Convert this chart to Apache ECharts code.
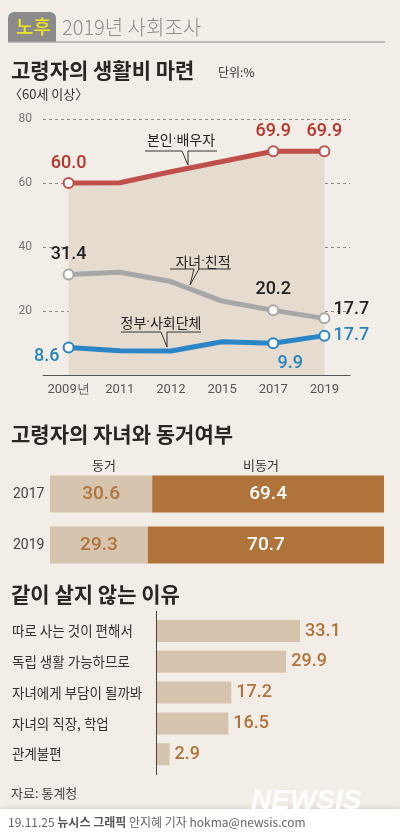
<!DOCTYPE html>
<html><head><meta charset="utf-8">
<script src="https://cdn.jsdelivr.net/npm/echarts@6/dist/echarts.min.js"></script>
<style>html,body{margin:0;padding:0;background:#f3ede7}#c{width:400px;height:832px}</style>
</head><body><div id="c"></div>
<script>
// ---- Data ----
const years = ['2009년', '2011', '2012', '2015', '2017', '2019'];
const selfSpouse = [60.0, 60.1, 63.5, 66.7, 69.9, 69.9];
const selfSpouseLabels = ['60.0', null, null, null, '69.9', '69.9'];
const children = [31.4, 32.1, 29.2, 23.1, 20.2, 17.7];
const childrenLabels = ['31.4', null, null, null, '20.2', '17.7'];
const govt = [8.6, 7.6, 7.5, 10.4, 9.9, 12.3];
const govtLabels = ['8.6', null, null, null, '9.9', '17.7'];
const yTicks = [0, 20, 40, 60, 80];

const coYears = ['2017', '2019'];
const coLiving = [30.6, 29.3];
const notCoLiving = [69.4, 70.7];

const reasons = ['따로 사는 것이 편해서', '독립 생활 가능하므로', '자녀에게 부담이 될까봐', '자녀의 직장, 학업', '관계불편'];
const reasonValues = [33.1, 29.9, 17.2, 16.5, 2.9];

// ---- Styles ----
const KR = '"Noto Sans CJK KR", "Noto Sans", sans-serif';
const NUM = '"Liberation Sans Narrow", Roboto, sans-serif';
const RED = '#c0504b', GRAY = '#a7a7a7', BLUE = '#2a86c6';
const LIGHT = '#d6c4af', BROWN = '#b0733a';

function lineData(vals, labels, labelColor, positions) {
  return vals.map((v, i) => {
    const item = { value: v, symbol: labels[i] ? 'circle' : 'none' };
    if (labels[i]) {
      item.label = Object.assign({
        show: true, formatter: labels[i], color: labelColor,
        fontFamily: NUM, fontSize: 18, fontWeight: 500
      }, positions[i]);
    }
    return item;
  });
}

const chart = echarts.init(document.getElementById('c'), null, { renderer: 'canvas' });

const calloutRich = { d: { fontFamily: 'Roboto, sans-serif', fontSize: 14, fill: '#222' } };

const option = {
  backgroundColor: '#f3ede7',
  animation: false,
  grid: [
    { left: 43, right: 50, top: 119, height: 256 },
    { left: 50, right: 16, top: 468.5, height: 102 },
    { left: 157, width: 216, top: 615.6, height: 154 }
  ],
  xAxis: [
    {
      gridIndex: 0, type: 'category', data: years, boundaryGap: true,
      axisLine: { lineStyle: { color: '#555', width: 1 } },
      axisTick: { alignWithLabel: true, length: 5, lineStyle: { color: '#555' } },
      axisLabel: { color: '#555', fontFamily: NUM, fontSize: 13, margin: 8, interval: 0 }
    },
    { gridIndex: 1, type: 'value', min: 0, max: 100, show: false },
    { gridIndex: 2, type: 'value', min: 0, max: 50, show: false }
  ],
  yAxis: [
    {
      gridIndex: 0, type: 'value', min: yTicks[0], max: yTicks[yTicks.length - 1], interval: 20,
      axisLine: { show: false }, axisTick: { show: false },
      axisLabel: { color: '#777', fontFamily: NUM, fontSize: 12, margin: 11,
        formatter: v => (v === 0 ? '' : String(v)) },
      splitLine: { lineStyle: { color: '#8f8a86', type: [3, 3], width: 1 } }
    },
    {
      gridIndex: 1, type: 'category', data: coYears, inverse: true,
      axisLine: { show: false }, axisTick: { show: false },
      axisLabel: { color: '#444', fontFamily: NUM, fontSize: 14, align: 'left', margin: 37 }
    },
    {
      gridIndex: 2, type: 'category', data: reasons, inverse: true,
      axisLine: { show: false }, axisTick: { show: false },
      axisLabel: { color: '#333', fontFamily: KR, fontSize: 13.5, align: 'left', margin: 145 }
    }
  ],
  series: [
    {
      type: 'line', xAxisIndex: 0, yAxisIndex: 0, z: 3,
      data: lineData(selfSpouse, selfSpouseLabels, '#b8352c', [
        { position: 'top', distance: 5 }, null, null, null,
        { position: 'top', distance: 5 }, { position: 'top', distance: 5 }]),
      lineStyle: { color: RED, width: 5 },
      itemStyle: { color: '#fff', borderColor: RED, borderWidth: 2 },
      symbolSize: 10,
      areaStyle: { color: '#e6dbcf', opacity: 1 }
    },
    {
      type: 'line', xAxisIndex: 0, yAxisIndex: 0, z: 4,
      data: lineData(children, childrenLabels, '#222', [
        { position: 'top', distance: 5 }, null, null, null,
        { position: 'top', distance: 6 }, { position: 'right', distance: 3, offset: [0, -9] }]),
      lineStyle: { color: GRAY, width: 5 },
      itemStyle: { color: '#fff', borderColor: GRAY, borderWidth: 2 },
      symbolSize: 10
    },
    {
      type: 'line', xAxisIndex: 0, yAxisIndex: 0, z: 5,
      data: lineData(govt, govtLabels, '#2586ba', [
        { position: 'left', distance: 3, offset: [0, 9] }, null, null, null,
        { position: 'bottom', distance: 5, offset: [17, 0] }, { position: 'right', distance: 3 }]),
      lineStyle: { color: BLUE, width: 5 },
      itemStyle: { color: '#fff', borderColor: BLUE, borderWidth: 2 },
      symbolSize: 10
    },
    {
      type: 'bar', xAxisIndex: 1, yAxisIndex: 1, stack: 'co', barWidth: 37,
      data: coLiving,
      itemStyle: { color: LIGHT },
      label: { show: true, position: 'inside', color: BROWN, fontFamily: NUM, fontSize: 19, fontWeight: 500,
        formatter: p => p.value.toFixed(1) }
    },
    {
      type: 'bar', xAxisIndex: 1, yAxisIndex: 1, stack: 'co', barWidth: 37,
      data: notCoLiving,
      itemStyle: { color: BROWN },
      label: { show: true, position: 'inside', color: '#fff', fontFamily: NUM, fontSize: 19, fontWeight: 500,
        formatter: p => p.value.toFixed(1) }
    },
    {
      type: 'bar', xAxisIndex: 2, yAxisIndex: 2, barWidth: 22,
      data: reasonValues,
      itemStyle: { color: LIGHT },
      label: { show: true, position: 'right', distance: 5, color: BROWN, fontFamily: NUM, fontSize: 18, fontWeight: 500,
        formatter: p => p.value.toFixed(1) }
    }
  ],
  graphic: [
    // header
    { type: 'rect', shape: { x: 8, y: 12, width: 48, height: 30, r: [6, 6, 0, 0] }, style: { fill: '#8b8b8b' } },
    { type: 'text', x: 16, y: 27, style: { text: '노후', fill: '#f2e51c', font: '500 19px ' + KR, textVerticalAlign: 'middle' } },
    { type: 'text', x: 62, y: 27, style: { text: '2019년 사회조사', fill: '#8d8d8d', font: '300 20px ' + KR, textVerticalAlign: 'middle' } },
    { type: 'line', shape: { x1: 8, y1: 42, x2: 385, y2: 42 }, style: { stroke: '#a8a8a8', lineWidth: 1.5 } },
    // section 1 titles
    { type: 'text', x: 11, y: 70, style: { text: '고령자의 생활비 마련', fill: '#2a2624', font: 'bold 21px ' + KR, textVerticalAlign: 'middle' } },
    { type: 'text', x: 218, y: 72, style: { text: '단위:%', fill: '#333', font: '12px ' + KR, textVerticalAlign: 'middle' } },
    { type: 'text', x: 9, y: 94, style: { text: '〈60세 이상〉', fill: '#333', font: '13px ' + KR, textVerticalAlign: 'middle' } },
    // callouts (above the area fill)
    { type: 'group', z: 100, children: [
      { type: 'text', z: 100, x: 181, y: 140, style: { text: '본인{d|·}배우자', rich: calloutRich, fill: '#222', font: '14px ' + KR, textAlign: 'center', textVerticalAlign: 'middle' } },
      { type: 'polyline', z: 100, shape: { points: [[145, 151], [182, 151], [188, 165], [188, 151], [217, 151]] }, style: { stroke: '#333', lineWidth: 1, fill: null } },
      { type: 'text', z: 100, x: 203, y: 262, style: { text: '자녀{d|·}친적', rich: calloutRich, fill: '#222', font: '14px ' + KR, textAlign: 'center', textVerticalAlign: 'middle' } },
      { type: 'polyline', z: 100, shape: { points: [[170, 269], [194, 269], [190, 285], [199, 269], [231, 269]] }, style: { stroke: '#333', lineWidth: 1, fill: null } },
      { type: 'text', z: 100, x: 161, y: 323, style: { text: '정부{d|·}사회단체', rich: calloutRich, fill: '#222', font: '14px ' + KR, textAlign: 'center', textVerticalAlign: 'middle' } },
      { type: 'polyline', z: 100, shape: { points: [[121, 332], [161, 332], [167, 347], [167, 332], [201, 332]] }, style: { stroke: '#333', lineWidth: 1, fill: null } }
    ] },
    // section 2
    { type: 'text', x: 11, y: 434, style: { text: '고령자의 자녀와 동거여부', fill: '#2a2624', font: 'bold 21px ' + KR, textVerticalAlign: 'middle' } },
    { type: 'text', x: 104, y: 465, style: { text: '동거', fill: '#333', font: '13px ' + KR, textAlign: 'center', textVerticalAlign: 'middle' } },
    { type: 'text', x: 261, y: 465, style: { text: '비동거', fill: '#333', font: '13px ' + KR, textAlign: 'center', textVerticalAlign: 'middle' } },
    // section 3
    { type: 'text', x: 11, y: 594, style: { text: '같이 살지 않는 이유', fill: '#2a2624', font: 'bold 21px ' + KR, textVerticalAlign: 'middle' } },
    { type: 'line', shape: { x1: 156.5, y1: 611, x2: 156.5, y2: 775 }, style: { stroke: '#444', lineWidth: 1 } },
    // footer
    { type: 'text', x: 11, y: 793, style: { text: '자료: 통계청', fill: '#444', font: '13px ' + KR, textVerticalAlign: 'middle' } },
    { type: 'rect', shape: { x: 0, y: 809, width: 400, height: 23 }, style: { fill: '#ffffff', shadowBlur: 6, shadowColor: 'rgba(0,0,0,0.12)', shadowOffsetY: -1 } },
    { type: 'text', x: 251, y: 801, style: { text: 'NEWSIS', fill: '#ffffff', font: 'italic 900 28px "Liberation Sans", sans-serif', textVerticalAlign: 'middle', opacity: 0.95 } },
    { type: 'text', x: 8, y: 822, style: { text: '19.11.25 {b|뉴시스 그래픽} 안지혜 기자 hokma@newsis.com', fill: '#666', font: '12px ' + KR, textVerticalAlign: 'middle',
      rich: { b: { fill: '#555', fontWeight: 'bold', fontSize: 12, fontFamily: KR } } } }
  ]
};
chart.setOption(option);
</script>
</body></html>
